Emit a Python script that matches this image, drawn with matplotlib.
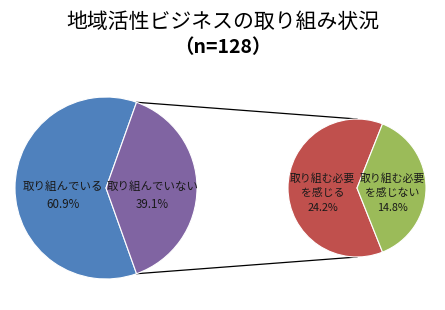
import numpy as np
import matplotlib.pyplot as plt

plt.rcParams['font.family'] = ['Noto Sans CJK JP', 'DejaVu Sans']

# data
main_labels = ['取り組んでいる', '取り組んでいない']
main_values = [60.9, 39.1]
sub_labels = ['取り組む必要\nを感じる', '取り組む必要\nを感じない']
sub_values = [24.2, 14.8]

main_colors = ['#4F81BD', '#8064A2']
sub_colors = ['#C0504D', '#9BBB59']

W, H = 445, 310
fig = plt.figure(figsize=(W / 100, H / 100), dpi=100)
ax = fig.add_axes([0, 0, 1, 1])

# pie geometry in pixel units (y measured from bottom)
c1, r1 = (106, H - 188), 91
c2, r2 = (357, H - 188), 69

start1 = 180 * main_values[1] / sum(main_values)
w1, _ = ax.pie(main_values, colors=main_colors, center=c1, radius=r1,
               startangle=start1, counterclock=True,
               wedgeprops=dict(edgecolor='white', linewidth=0.8))
start2 = 180 * sub_values[1] / sum(sub_values)
w2, _ = ax.pie(sub_values, colors=sub_colors, center=c2, radius=r2,
               startangle=start2, counterclock=True,
               wedgeprops=dict(edgecolor='white', linewidth=0.8))

ax.set_xlim(0, W)
ax.set_ylim(0, H)
ax.set_aspect('equal')
ax.axis('off')

# connector lines from the split edges of the left pie to the right pie
for theta, ang2 in [(w1[1].theta2, 90), (w1[1].theta1, 270)]:
    t = np.deg2rad(theta)
    x0, y0 = c1[0] + r1 * np.cos(t), c1[1] + r1 * np.sin(t)
    t2 = np.deg2rad(ang2)
    x1, y1 = c2[0] + r2 * np.cos(t2), c2[1] + r2 * np.sin(t2)
    ax.plot([x0, x1], [y0, y1], color='black', lw=0.9, zorder=0)

# slice labels
label_pos = [(-0.47, -0.08), (0.51, -0.08)]
for lab, v, (dx, dy) in zip(main_labels, main_values, label_pos):
    ax.text(c1[0] + dx * r1, c1[1] + dy * r1, f'{lab}\n{v:.1f}%',
            ha='center', va='center', fontsize=8.3, linespacing=1.55,
            color='#1a1a1a')

sub_pos = [(-0.5, -0.07), (0.51, -0.07)]
for lab, v, (dx, dy) in zip(sub_labels, sub_values, sub_pos):
    ax.text(c2[0] + dx * r2, c2[1] + dy * r2, f'{lab}\n{v:.1f}%',
            ha='center', va='center', fontsize=7.8, linespacing=1.55,
            color='#1a1a1a')

# title
fig.text(0.5, 1 - 22 / H, '地域活性ビジネスの取り組み状況',
         ha='center', va='center', fontsize=15)
fig.text(0.5, 1 - 48 / H, '（n=128）',
         ha='center', va='center', fontsize=14, fontweight='bold')

fig.savefig('out.png', dpi=100, facecolor='white')
